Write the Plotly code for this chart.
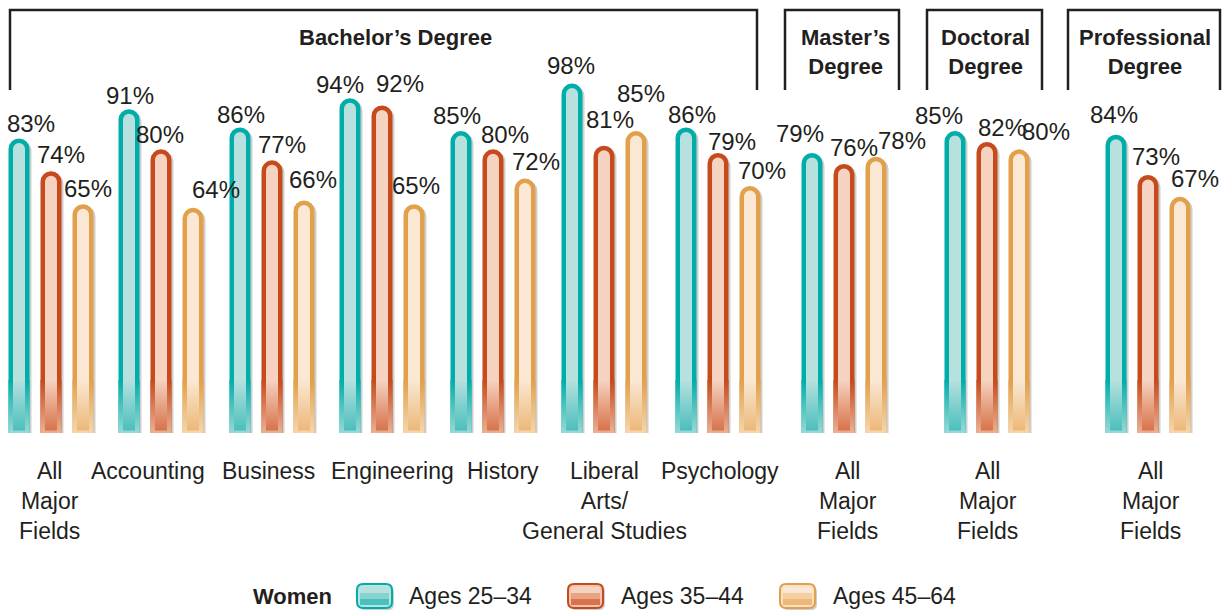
import plotly.graph_objects as go

# ---------------- data ----------------
fields = [
    "All<br>Major<br>Fields", "Accounting", "Business", "Engineering", "History",
    "Liberal<br>Arts/<br>General Studies", "Psychology",
    "All<br>Major<br>Fields", "All<br>Major<br>Fields", "All<br>Major<br>Fields",
]
degree_levels = ["Bachelor’s Degree", "Master’s<br>Degree", "Doctoral<br>Degree", "Professional<br>Degree"]
series_names = ["Ages 25–34", "Ages 35–44", "Ages 45–64"]
ages_25_34 = [83, 91, 86, 94, 85, 98, 86, 79, 85, 84]
ages_35_44 = [74, 80, 77, 92, 80, 81, 79, 76, 82, 73]
ages_45_64 = [65, 64, 66, 65, 72, 85, 70, 78, 80, 67]
legend_title = "Women"

# ---------------- layout constants (pixels) ----------------
W, H = 1226, 611
PLOT_BOTTOM = 433          # bottom edge of the bar area
ZERO_PX = 444              # pixel row of the value 0
PX_PER_PT = 3.655          # pixels per percentage point
GROUP_X = [51, 161, 272, 382, 493, 604, 718, 844, 987, 1148]
BAR_STEP = 32
BAR_OUTER = 21
BAR_LINE = 4.5
FADE_TOP_PX = 380          # where the bottom fade begins

# label nudges (px): dx to the right, dy above the bar top
LABEL_DX = [
    [12, 1, 1, -10, -4, -1, 6, -12, -16, -2],
    [10, -1, 10, 18, 12, 6, 14, 10, 15, 8],
    [5, 23, 9, 2, 11, 5, 12, 26, 27, 15],
]
LABEL_DY = [
    [17, 16, 15, 16, 18, 20, 15, 22, 18, 22],
    [19, 17, 18, 24, 17, 28, 14, 19, 17, 21],
    [18, 21, 23, 21, 19, 40, 18, 18, 20, 21],
]
FIELD_DX = [-2, -13, -4, 10, 10, 0, 2, 3, 1, 2]
HEADER_X = [395, 845, 985, 1145]
BRACKETS = [(10, 757), (785, 899), (927, 1042), (1068, 1220)]
LEGEND_ICON_X = [357, 568, 780]
LEGEND_TEXT_X = [407, 619, 831]
LEGEND_Y = 596

# colours per series: outline, pale fill, dark bottom fill, pale bottom rim, mid band
COLORS = [
    dict(line="#00ADA9", fill="#B6E1DF", dark="#4BBFBC", rim="#B9E2E0", mid="#86D2CF"),
    dict(line="#C64A1C", fill="#F5D3C0", dark="#D8734B", rim="#F0C6AE", mid="#E8A384"),
    dict(line="#E2A04A", fill="#FAE8D4", dark="#EDB878", rim="#F8E1C4", mid="#F3CFA3"),
]
SHADOW = "#CFCFCF"
TEXT = "#231F20"
FONT = "Liberation Sans, Arial, sans-serif"

Y_LO = (ZERO_PX - PLOT_BOTTOM) / PX_PER_PT
Y_HI = ZERO_PX / PX_PER_PT


def px_to_val(p):
    return (ZERO_PX - p) / PX_PER_PT


def paper_x(p):
    return p / W


def paper_y(p):
    return (PLOT_BOTTOM - p) / PLOT_BOTTOM


series_values = [ages_25_34, ages_35_44, ages_45_64]
offsets = [-BAR_STEP, 0, BAR_STEP]

fig = go.Figure()

for s, values in enumerate(series_values):
    c = COLORS[s]
    xs = [g + offsets[s] for g in GROUP_X]
    inner_w = BAR_OUTER - 2 * BAR_LINE
    # drop shadow on the right side
    fig.add_trace(go.Bar(
        x=xs, y=values, width=BAR_OUTER - 1, offset=-(BAR_OUTER - 1) / 2 + 2.5,
        marker=dict(color=SHADOW, line=dict(width=0), cornerradius="50%"),
        hoverinfo="skip", showlegend=False,
    ))
    # main capsule bar
    fig.add_trace(go.Bar(
        x=xs, y=values, width=BAR_OUTER - BAR_LINE, offset=-(BAR_OUTER - BAR_LINE) / 2,
        marker=dict(color=c["fill"], line=dict(color=c["line"], width=BAR_LINE), cornerradius="50%"),
        name=series_names[s], showlegend=False,
        hovertemplate=series_names[s] + ": %{y}%<extra></extra>",
    ))
    # fade at the foot of each bar: rim fades from outline to pale, core darkens
    fade_top = px_to_val(FADE_TOP_PX)
    ox, oy, ix, iy = [], [], [], []
    for x in xs:
        h = BAR_OUTER / 2
        ox += [x - h, x + h, x + h, x - h, x - h, None]
        oy += [0, 0, fade_top, fade_top, 0, None]
        k = inner_w / 2
        b = px_to_val(PLOT_BOTTOM - 2.5)
        ix += [x - k, x + k, x + k, x - k, x - k, None]
        iy += [b, b, fade_top, fade_top, b, None]
    fig.add_trace(go.Scatter(
        x=ox, y=oy, mode="lines", line=dict(width=0), fill="toself",
        fillgradient=dict(type="vertical", colorscale=[[0, c["rim"]], [1, c["line"]]]),
        hoverinfo="skip", showlegend=False,
    ))
    fig.add_trace(go.Scatter(
        x=ix, y=iy, mode="lines", line=dict(width=0), fill="toself",
        fillgradient=dict(type="vertical", colorscale=[[0, c["dark"]], [1, c["fill"]]]),
        hoverinfo="skip", showlegend=False,
    ))

annotations = []

# value labels above the bars
for s, values in enumerate(series_values):
    for i, v in enumerate(values):
        annotations.append(dict(
            x=GROUP_X[i] + offsets[s], y=v, xref="x", yref="y",
            text=f"{v}%", showarrow=False,
            xshift=LABEL_DX[s][i], yshift=LABEL_DY[s][i],
            xanchor="center", yanchor="middle",
            font=dict(family=FONT, size=24, color=TEXT),
        ))

# field names under the groups
for i, name in enumerate(fields):
    annotations.append(dict(
        x=paper_x(GROUP_X[i] + FIELD_DX[i]), y=paper_y(456), xref="paper", yref="paper",
        text=name, showarrow=False, xanchor="center", yanchor="top", align="center",
        font=dict(family=FONT, size=23, color=TEXT),
    ))

# degree headers
for i, name in enumerate(degree_levels):
    annotations.append(dict(
        x=paper_x(HEADER_X[i]), y=paper_y(23), xref="paper", yref="paper",
        text=f"<b>{name}</b>", showarrow=False, xanchor="center", yanchor="top", align="center",
        font=dict(family=FONT, size=22, color=TEXT),
    ))

shapes = []
for x0, x1 in BRACKETS:
    path = (f"M {paper_x(x0)},{paper_y(90)} L {paper_x(x0)},{paper_y(10)} "
            f"L {paper_x(x1)},{paper_y(10)} L {paper_x(x1)},{paper_y(90)}")
    shapes.append(dict(type="path", xref="paper", yref="paper", path=path,
                       line=dict(color=TEXT, width=2.5)))


def rounded_rect(x0, y0, x1, y1, r):
    pts = [
        ("M", (x0 + r, y0)), ("L", (x1 - r, y0)), ("Q", (x1, y0), (x1, y0 + r)),
        ("L", (x1, y1 - r)), ("Q", (x1, y1), (x1 - r, y1)), ("L", (x0 + r, y1)),
        ("Q", (x0, y1), (x0, y1 - r)), ("L", (x0, y0 + r)), ("Q", (x0, y0), (x0 + r, y0)),
    ]
    out = []
    for cmd, *ps in pts:
        out.append(cmd + " " + " ".join(f"{paper_x(px)},{paper_y(py)}" for px, py in ps))
    return " ".join(out) + " Z"


# legend
annotations.append(dict(
    x=paper_x(251), y=paper_y(LEGEND_Y), xref="paper", yref="paper",
    text=f"<b>{legend_title}</b>", showarrow=False, xanchor="left", yanchor="middle",
    font=dict(family=FONT, size=22, color=TEXT),
))
for s in range(3):
    c = COLORS[s]
    x0 = LEGEND_ICON_X[s]
    x1 = x0 + 35
    y0, y1 = LEGEND_Y - 12, LEGEND_Y + 12
    shapes.append(dict(type="path", xref="paper", yref="paper",
                       path=rounded_rect(x0 + 2, y0 + 2, x1 + 2, y1 + 2, 6),
                       fillcolor=SHADOW, line=dict(width=0)))
    shapes.append(dict(type="path", xref="paper", yref="paper",
                       path=rounded_rect(x0, y0, x1, y1, 6),
                       fillcolor=c["rim"], line=dict(color=c["line"], width=2)))
    shapes.append(dict(type="rect", xref="paper", yref="paper",
                       x0=paper_x(x0 + 3), x1=paper_x(x1 - 3),
                       y0=paper_y(y0 + 3), y1=paper_y(y0 + 9),
                       fillcolor=c["fill"], line=dict(width=0)))
    shapes.append(dict(type="rect", xref="paper", yref="paper",
                       x0=paper_x(x0 + 3), x1=paper_x(x1 - 3),
                       y0=paper_y(y0 + 9), y1=paper_y(y0 + 15),
                       fillcolor=c["mid"], line=dict(width=0)))
    shapes.append(dict(type="rect", xref="paper", yref="paper",
                       x0=paper_x(x0 + 3), x1=paper_x(x1 - 3),
                       y0=paper_y(y0 + 15), y1=paper_y(y1 - 3),
                       fillcolor=c["dark"], line=dict(width=0)))
    annotations.append(dict(
        x=paper_x(LEGEND_TEXT_X[s]), y=paper_y(LEGEND_Y), xref="paper", yref="paper",
        text=series_names[s], showarrow=False, xanchor="left", yanchor="middle",
        font=dict(family=FONT, size=23, color=TEXT),
    ))

fig.update_layout(
    width=W, height=H,
    margin=dict(l=0, r=0, t=0, b=H - PLOT_BOTTOM, pad=0),
    paper_bgcolor="white", plot_bgcolor="white",
    barmode="overlay", showlegend=False,
    xaxis=dict(range=[0, W], visible=False, fixedrange=True),
    yaxis=dict(range=[Y_LO, Y_HI], visible=False, fixedrange=True),
    annotations=annotations, shapes=shapes,
    font=dict(family=FONT, color=TEXT),
)

fig.write_html("out.html")
